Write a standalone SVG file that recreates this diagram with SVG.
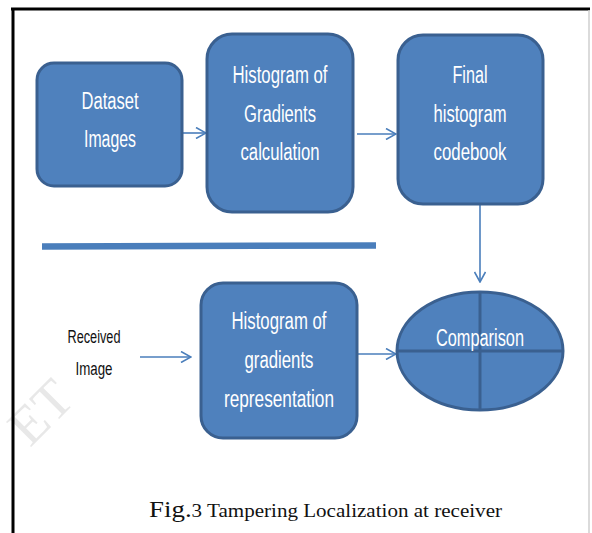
<svg xmlns="http://www.w3.org/2000/svg" width="592" height="533" viewBox="0 0 592 533">
<style>
.box{fill:#4f81bd;stroke:#3a6090;stroke-width:3}
.bt{font-family:"Liberation Sans Narrow","Liberation Sans",sans-serif;font-size:23px;fill:#ffffff;text-anchor:middle}
.rt{font-family:"Liberation Sans Narrow","Liberation Sans",sans-serif;font-size:18px;fill:#111111;text-anchor:middle}
.cn{fill:none;stroke:#4a7ebb;stroke-width:1.6}
</style>
<defs>
<marker id="ah" viewBox="0 0 12 12" refX="11" refY="6" markerWidth="12" markerHeight="12" markerUnits="userSpaceOnUse" orient="auto">
<path d="M1,0.5 L11,6 L1,11.5" fill="none" stroke="#4a7ebb" stroke-width="1.6"/>
</marker>
</defs>
<rect width="592" height="533" fill="#ffffff"/>
<text x="0" y="0" transform="translate(30,448) rotate(-45)" font-family="Liberation Serif,serif" font-size="54" fill="#e8e8e8">ET</text>
<g id="frame">
<line x1="11" y1="9" x2="590" y2="9" stroke="#000" stroke-width="3"/>
<line x1="13" y1="8" x2="13" y2="533" stroke="#000" stroke-width="3"/>
<line x1="589" y1="10" x2="589" y2="533" stroke="#cfcfcf" stroke-width="1.5"/>
</g>
<g id="separator">
<line x1="42" y1="246.5" x2="376" y2="245.5" stroke="#4a7ebb" stroke-width="6.5"/>
</g>
<g id="connectors">
<line class="cn" x1="182" y1="133" x2="206" y2="133" marker-end="url(#ah)"/>
<line class="cn" x1="357" y1="134" x2="396" y2="134" marker-end="url(#ah)"/>
<line class="cn" x1="480" y1="205" x2="480" y2="282" marker-end="url(#ah)"/>
<line class="cn" x1="140" y1="357" x2="191" y2="357" marker-end="url(#ah)"/>
<line class="cn" x1="357" y1="354" x2="396" y2="354" marker-end="url(#ah)"/>
</g>
<g id="dataset">
<rect class="box" x="37" y="63" width="145" height="123" rx="17"/>
<text class="bt" x="110" y="109" textLength="57" lengthAdjust="spacingAndGlyphs">Dataset</text>
<text class="bt" x="110" y="147" textLength="52" lengthAdjust="spacingAndGlyphs">Images</text>
</g>
<g id="hog-calc">
<rect class="box" x="207" y="34" width="146" height="178" rx="25"/>
<text class="bt" x="280" y="83" textLength="95" lengthAdjust="spacingAndGlyphs">Histogram of</text>
<text class="bt" x="280" y="122" textLength="72" lengthAdjust="spacingAndGlyphs">Gradients</text>
<text class="bt" x="280" y="160" textLength="79" lengthAdjust="spacingAndGlyphs">calculation</text>
</g>
<g id="codebook">
<rect class="box" x="398" y="35" width="145" height="169" rx="25"/>
<text class="bt" x="470" y="83" textLength="35" lengthAdjust="spacingAndGlyphs">Final</text>
<text class="bt" x="470" y="122" textLength="73" lengthAdjust="spacingAndGlyphs">histogram</text>
<text class="bt" x="470" y="160" textLength="73" lengthAdjust="spacingAndGlyphs">codebook</text>
</g>
<g id="received">
<text class="rt" x="94" y="343" textLength="53" lengthAdjust="spacingAndGlyphs">Received</text>
<text class="rt" x="94" y="375" textLength="37" lengthAdjust="spacingAndGlyphs">Image</text>
</g>
<g id="hog-rep">
<rect class="box" x="201" y="283" width="156" height="155" rx="22"/>
<text class="bt" x="279" y="329" textLength="95" lengthAdjust="spacingAndGlyphs">Histogram of</text>
<text class="bt" x="279" y="368" textLength="69" lengthAdjust="spacingAndGlyphs">gradients</text>
<text class="bt" x="279" y="407" textLength="110" lengthAdjust="spacingAndGlyphs">representation</text>
</g>
<g id="comparison">
<ellipse class="box" cx="480" cy="351" rx="83" ry="59"/>
<line x1="480" y1="292" x2="480" y2="410" stroke="#3a6090" stroke-width="3"/>
<line x1="397" y1="351" x2="563" y2="351" stroke="#3a6090" stroke-width="3"/>
<text class="bt" x="480" y="346" textLength="88" lengthAdjust="spacingAndGlyphs">Comparison</text>
</g>
<g id="caption">
<text x="149" y="517" font-family="Liberation Serif,serif" font-size="18" fill="#111" textLength="353" lengthAdjust="spacingAndGlyphs"><tspan font-size="23">Fig.</tspan>3 Tampering Localization at receiver</text>
</g>
</svg>
